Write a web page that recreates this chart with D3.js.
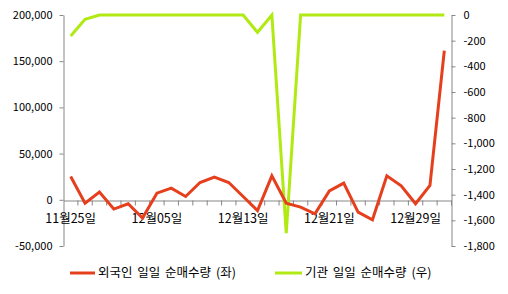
<!DOCTYPE html>
<html>
<head>
<meta charset="utf-8">
<script src="https://cdn.jsdelivr.net/npm/d3@7"></script>
<style>
  body { margin: 0; background: #fff; }
  text { font-family: "Noto Sans CJK KR", "Liberation Sans", sans-serif; fill: #000; }
</style>
</head>
<body>
<div id="chart"></div>
<script>
// trading days, 2011-11-25 .. 2012-01-02
const dates = ["11월25일", "11월28일", "11월29일", "11월30일", "12월01일", "12월02일",
    "12월05일", "12월06일", "12월07일", "12월08일", "12월09일", "12월12일",
    "12월13일", "12월14일", "12월15일", "12월16일", "12월19일", "12월20일",
    "12월21일", "12월22일", "12월23일", "12월26일", "12월27일", "12월28일",
    "12월29일", "12월30일", "01월02일"];

// 외국인 (left axis)
const foreign = [25200, -3600, 8300, -10000, -4300, -19800, 7200, 12600, 3600, 18700,
    24500, 18700, 3600, -11600, 25900, -3600, -7900, -15100, 9700, 18000,
    -13300, -21600, 25900, 15100, -4300, 15500, 161400];

// 기관 (right axis)
const inst = [-164, -34, 0, 0, 0, 0, 0, 0, 0, 0,
    0, 0, 0, -135, 0, -1700, 0, 0, 0, 0,
    0, 0, 0, 0, 0, 0, 0];

const leftTicks = [-50000, 0, 50000, 100000, 150000, 200000];
const rightTicks = [-1800, -1600, -1400, -1200, -1000, -800, -600, -400, -200, 0];
const seriesNames = ["외국인 일일 순매수량 (좌)", "기관 일일 순매수량 (우)"];

const W = 508, H = 294;
const plot = { left: 63.5, right: 451.5, top: 15, bottom: 246 };
const red = "#e63f1d", green = "#b1ea12", axisColor = "#878787";

const svg = d3.select("#chart").append("svg")
    .attr("width", W).attr("height", H);

const x = d3.scaleBand()
    .domain(dates)
    .range([plot.left, plot.right]);
const cx = d => x(d) + x.bandwidth() / 2;

const yL = d3.scaleLinear().domain([-50000, 200000]).range([plot.bottom, plot.top]);
const yR = d3.scaleLinear().domain([-1800, 0]).range([plot.bottom, plot.top]);

const fmt = v => d3.format(",")(v).replace("−", "-");

// left axis
const gL = svg.append("g")
    .attr("transform", `translate(${plot.left},0)`)
    .call(d3.axisLeft(yL).tickValues(leftTicks).tickSize(4).tickSizeOuter(0).tickPadding(7).tickFormat(fmt));
gL.selectAll("text").style("font-size", "11px");

// right axis
const gR = svg.append("g")
    .attr("transform", `translate(${plot.right},0)`)
    .call(d3.axisRight(yR).tickValues(rightTicks).tickSize(4).tickSizeOuter(0).tickPadding(8).tickFormat(fmt));
gR.selectAll("text").style("font-size", "11px");

// category axis on the zero line
const gX = svg.append("g")
    .attr("transform", `translate(0,${Math.round(yL(0)) + 0.5})`)
    .call(d3.axisBottom(x).tickSize(5).tickSizeOuter(0).tickPadding(9)
        .tickFormat((d, i) => i % 6 === 0 ? d : ""));
gX.selectAll(".tick line").attr("x1", x.bandwidth() / 2).attr("x2", x.bandwidth() / 2);
gX.selectAll("text").style("font-size", "12.5px");

svg.selectAll(".domain, .tick line").attr("stroke", axisColor);

// lines
const lineR = d3.line().x((d, i) => cx(dates[i])).y(d => yR(d));
const lineL = d3.line().x((d, i) => cx(dates[i])).y(d => yL(d));

svg.append("path")
    .datum(inst)
    .attr("d", lineR)
    .attr("fill", "none")
    .attr("stroke", green)
    .attr("stroke-width", 3);

svg.append("path")
    .datum(foreign)
    .attr("d", lineL)
    .attr("fill", "none")
    .attr("stroke", red)
    .attr("stroke-width", 3);

// legend
const legend = svg.append("g").attr("transform", "translate(0,273)");
const legX = [70, 275], swatchW = [25, 27];
[red, green].forEach((c, i) => {
    const g = legend.append("g").attr("transform", `translate(${legX[i]},0)`);
    g.append("line").attr("x1", 0).attr("x2", swatchW[i]).attr("stroke", c).attr("stroke-width", 3);
    g.append("text").attr("x", swatchW[i] + 3).attr("dy", "0.35em")
        .style("font-size", "12.5px").style("word-spacing", "2px")
        .text(seriesNames[i]);
});
</script>
</body>
</html>
